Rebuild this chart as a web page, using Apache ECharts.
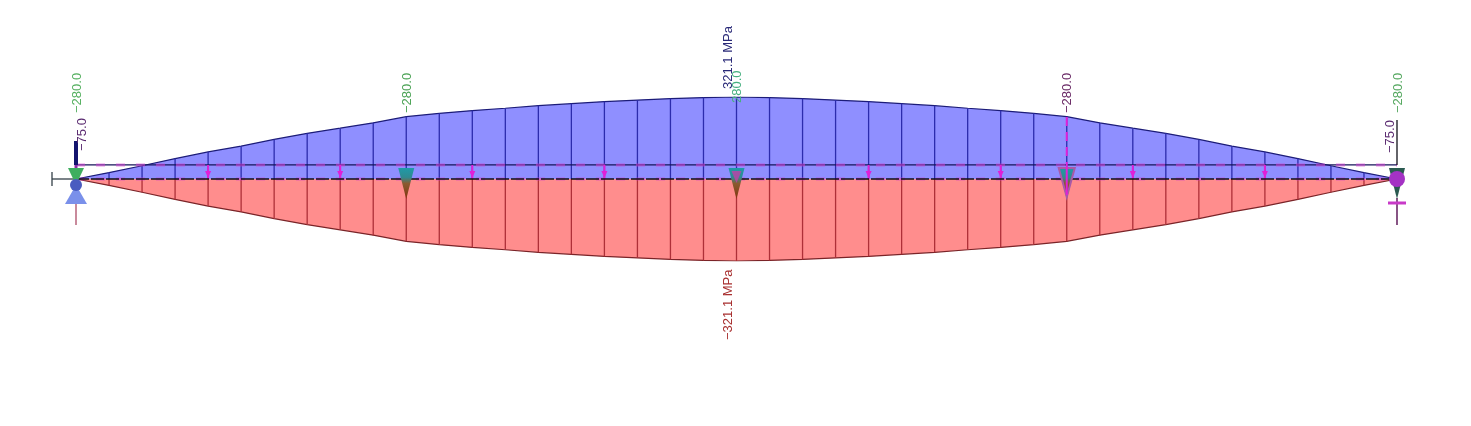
<!DOCTYPE html>
<html>
<head>
<meta charset="utf-8">
<style>html,body{margin:0;padding:0;background:#fff}#c{width:1471px;height:426px}</style>
<script src="https://cdn.jsdelivr.net/npm/echarts@6/dist/echarts.min.js"></script>
</head>
<body>
<div id="c"></div>
<script>
var stations = [0,1,2,3,4,5,6,7,8,9,10,11,12,13,14,15,16,17,18,19,20,21,22,23,24,25,26,27,28,29,30,31,32,33,34,35,36,37,38,39,40];
var topStress = [0,25,52,80,106,129,155,179,199,220,244,257,268,277,287,295,303,309,315,319,321.1,319,315,309,303,295,287,277,268,257,244,220,199,179,155,129,106,80,52,25,0];
var bottomStress = [0,-25,-52,-80,-106,-129,-155,-179,-199,-220,-244,-257,-268,-277,-287,-295,-303,-309,-315,-319,-321.1,-319,-315,-309,-303,-295,-287,-277,-268,-257,-244,-220,-199,-179,-155,-129,-106,-80,-52,-25,0];
var deckLevel = 55;
var loadStations = [4,8,12,16,24,28,32,36];
var supportStations = [10,20,30];
var momentStations = [0,40];
var momentLabels = ['\u221275.0','\u221275.0'];
var prestressStations = [0,10,20,30,40];
var prestressLabels = ['\u2212280.0','\u2212280.0','280.0','\u2212280.0','\u2212280.0'];
var peakLabelTop = '321.1 MPa';
var peakLabelBottom = '\u2212321.1 MPa';
var peakStation = 20;

var FONT = '13px "Liberation Sans", Arial, sans-serif';
function vtext(x, y, text, color) {
  return {type:'text', x:x, y:y, rotation:Math.PI/2, silent:true,
    style:{text:text, fill:color, font:FONT, align:'left', verticalAlign:'middle'}};
}
function poly(points, fill, extra) {
  var o = {type:'polygon', silent:true, shape:{points:points}, style:{fill:fill}};
  if (extra) for (var k in extra) o.style[k] = extra[k];
  return o;
}
function seg(x1,y1,x2,y2,color,w,dash) {
  return {type:'line', silent:true, shape:{x1:x1,y1:y1,x2:x2,y2:y2},
    style:{stroke:color, lineWidth:w, lineDash:dash||null}};
}
function pair(xs, ys){ return xs.map(function(x,i){return [x, ys[i]];}); }
function pierFill(){
  return new echarts.graphic.LinearGradient(0,0,0,1,[
    {offset:0,color:'#1f9aa8'},{offset:0.3,color:'#2f8a90'},
    {offset:0.5,color:'#8a5a30'},{offset:1,color:'#80360f'}]);
}

var prestressColors = ['#55b060','#4ca356','#46b080','#6a2a66','#55a860'];

var option = {
  backgroundColor:'#ffffff',
  animation:false,
  grid:{left:76, width:1321, top:97, height:164},
  xAxis:{type:'value', min:0, max:40, show:false},
  yAxis:{type:'value', min:-321.1, max:321.1, show:false},
  series:[
    {type:'line', data:pair(stations,topStress), symbol:'none', z:2,
      lineStyle:{color:'#1c1c78', width:1.2}, areaStyle:{color:'#8f8fff', opacity:1, origin:0}},
    {type:'line', data:pair(stations,bottomStress), symbol:'none', z:2,
      lineStyle:{color:'#7a2428', width:1.2}, areaStyle:{color:'#ff8d8d', opacity:1, origin:0}},
    {type:'custom', z:3, data:pair(stations,topStress), renderItem:function(p,api){
      var a=api.coord([api.value(0),0]), b=api.coord([api.value(0),api.value(1)]);
      return seg(a[0],a[1],b[0],b[1],'#2c2cac',1.3);
    }},
    {type:'custom', z:3, data:pair(stations,bottomStress), renderItem:function(p,api){
      var a=api.coord([api.value(0),0]), b=api.coord([api.value(0),api.value(1)]);
      return seg(a[0],a[1],b[0],b[1],'#ae3038',1.3);
    }},
    {type:'line', data:[[0,deckLevel],[40,deckLevel]], symbol:'none', z:4, lineStyle:{color:'#14145a', width:1.2}},
    {type:'line', data:[[0,deckLevel],[40,deckLevel]], symbol:'none', z:5, lineStyle:{color:'#d040d0', width:3, opacity:.55, type:[9,11]}},
    {type:'line', data:[[0,0],[40,0]], symbol:'none', z:5, lineStyle:{color:'#d040d0', width:3, opacity:.55, type:[9,11]}},
    {type:'line', data:[[0,0],[40,0]], symbol:'none', z:6, lineStyle:{color:'#101018', width:1.6, type:[13,2]}},
    // distributed load arrows between the deck line and the beam axis
    {type:'custom', z:6, data:loadStations.map(function(s){return [s];}), renderItem:function(p,api){
      var a=api.coord([api.value(0),0]), b=api.coord([api.value(0),deckLevel]);
      return {type:'group', children:[
        seg(a[0],a[1],b[0],b[1],'#e020d8',2),
        poly([[a[0]-3,a[1]-8],[a[0]+3,a[1]-8],[a[0],a[1]-1]],'#e020d8')
      ]};
    }},
    // interior supports
    {type:'custom', z:7, data:supportStations.map(function(s){return [s];}), renderItem:function(p,api){
      var s=api.value(0), a=api.coord([s,0]), x=a[0], y=a[1], kids=[
        poly([[x-8,y-11],[x+8,y-11],[x,y+20]], pierFill())
      ];
      if (s===peakStation) kids.push(poly([[x-5,y-8],[x+5,y-8],[x,y+4]],'#c040a8',{opacity:.8}));
      if (s===30) {
        kids.push(seg(x,y-62,x,y-14,'#e020d8',2,[9,6]));
        kids.push(poly([[x-8,y-11],[x+8,y-11],[x,y+18]],'rgba(0,0,0,0)',{stroke:'#a85aa8',lineWidth:2}));
        kids.push(seg(x,y-14,x,y+16,'#e020d8',2));
      }
      return {type:'group', children:kids};
    }},
    // left end: pinned support
    {type:'custom', z:8, data:[[momentStations[0]]], renderItem:function(p,api){
      var a=api.coord([api.value(0),0]), x=a[0], y=a[1];
      return {type:'group', children:[
        seg(x,y-38,x,y-14,'#14146e',4),
        seg(x,y-14,x,y,'#8a2ca8',3),
        seg(x-24,y,x,y,'#334048',1.3),
        seg(x-24,y-7,x-24,y+7,'#334048',1.3),
        seg(x,y+24,x,y+46,'#c98a9c',2),
        poly([[x-8,y-11],[x+8,y-11],[x,y+6]],'#3fae5f'),
        poly([[x,y+6],[x-11,y+25],[x+11,y+25]],'#7a90ea'),
        {type:'circle', silent:true, shape:{cx:x,cy:y+6,r:6}, style:{fill:'#4a5cc0'}}
      ]};
    }},
    // right end: roller with end moment
    {type:'custom', z:8, data:[[momentStations[1]]], renderItem:function(p,api){
      var a=api.coord([api.value(0),0]), x=a[0], y=a[1];
      return {type:'group', children:[
        seg(x,y-59,x,y-14,'#101018',1.3),
        seg(x,y+19,x,y+46,'#6a2a66',1.6),
        poly([[x-8,y-11],[x+8,y-11],[x,y+20]],'#2a5a50'),
        {type:'circle', silent:true, shape:{cx:x,cy:y,r:8}, style:{fill:'#a432c4'}},
        seg(x-9,y+24,x+9,y+24,'#c83ac8',3)
      ]};
    }},
    // rotated labels
    {type:'custom', z:10, data:prestressStations.map(function(s,i){return [s,i];}), renderItem:function(p,api){
      var a=api.coord([api.value(0),0]), i=api.value(1);
      return vtext(a[0]+1, a[1]-66-(i===2?10:0), prestressLabels[i], prestressColors[i]);
    }},
    {type:'custom', z:10, data:momentStations.map(function(s,i){return [s,i];}), renderItem:function(p,api){
      var a=api.coord([api.value(0),0]), i=api.value(1);
      return vtext(a[0]+(i===0?6:-7), a[1]-(i===0?28:26), momentLabels[i], '#5a2a70');
    }},
    {type:'custom', z:10, data:[[peakStation,topStress[peakStation]]], renderItem:function(p,api){
      var b=api.coord([api.value(0),api.value(1)]);
      return vtext(b[0]-8, b[1]-8, peakLabelTop, '#2a2a78');
    }},
    {type:'custom', z:10, data:[[peakStation,bottomStress[peakStation]]], renderItem:function(p,api){
      var b=api.coord([api.value(0),api.value(1)]);
      return vtext(b[0]-8, b[1]+79, peakLabelBottom, '#a83030');
    }}
  ]
};
var chart = echarts.init(document.getElementById('c'), null, {renderer:'canvas'});
chart.setOption(option);
</script>
</body>
</html>
